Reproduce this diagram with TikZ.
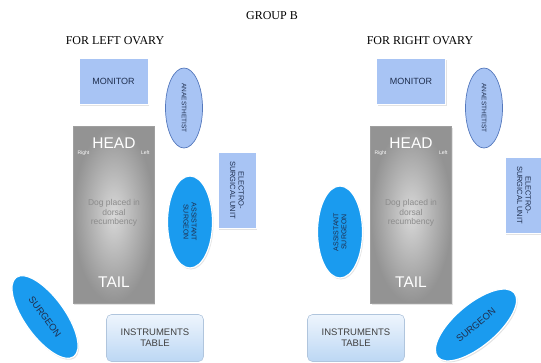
\documentclass[tikz,border=0pt]{standalone}
\usepackage{fontspec}
\setmainfont{Liberation Serif}
\setsansfont{Liberation Sans}
\usetikzlibrary{shapes.geometric, shadows}
\definecolor{paleblue}{HTML}{A8C4F4}
\definecolor{deepblue}{HTML}{1A9BEF}
\definecolor{rimblue}{HTML}{5478BC}
\definecolor{inkblue}{HTML}{1F2F4F}
\definecolor{tablelt}{HTML}{EEF5FD}
\definecolor{tabledk}{HTML}{BCD7F4}
\newcommand{\fsz}[1]{\fontsize{#1}{1.15\dimexpr#1pt\relax}\selectfont}

\begin{document}
\begin{tikzpicture}[x=1pt, y=-1pt,
    softshadow/.style={drop shadow={opacity=0.22, shadow xshift=1pt, shadow yshift=-1.5pt}},
    monitorbox/.style={rectangle, fill=paleblue, draw=white, line width=0.8pt, softshadow,
      minimum width=69pt, minimum height=46pt, font=\sffamily\fsz{9}, text=inkblue},
    anaes/.style={ellipse, fill=paleblue, draw=rimblue, line width=0.7pt, inner sep=0pt,
      minimum width=80pt, minimum height=37pt, font=\sffamily\fsz{6.5}, text=inkblue},
    electro/.style={rectangle, fill=paleblue, draw=white, line width=0.8pt, softshadow, inner sep=0pt,
      minimum width=76pt, minimum height=38pt, align=center, font=\sffamily\fsz{7.5}, text=inkblue},
    assist/.style={ellipse, fill=deepblue, draw=white, line width=1.2pt, softshadow, inner sep=0pt,
      minimum width=92pt, minimum height=45pt, align=center, font=\sffamily\fsz{7}, text=inkblue},
    surgeon/.style={ellipse, fill=deepblue, draw=white, line width=1.2pt, softshadow, inner sep=0pt,
      minimum width=98pt, minimum height=40pt, font=\sffamily\fsz{9.5}, text=inkblue},
    instr/.style={rectangle, rounded corners=5pt, top color=tablelt, bottom color=tabledk,
      draw=tabledk!80!gray, line width=0.6pt, minimum width=97pt, minimum height=47pt,
      align=center, font=\sffamily\fsz{9.5}, text=black!75},
    optable/.style={rectangle, shading=radial, inner color=gray!30, outer color=gray!85,
      draw=gray!75, line width=0.5pt, softshadow, minimum width=81pt, minimum height=177pt},
    tabletext/.style={font=\sffamily\fsz{15.5}, text=white},
    sidetext/.style={font=\sffamily\fsz{5}, text=white},
    dogtext/.style={align=center, font=\sffamily\fsz{8.5}, text=gray!90},
    headline/.style={font=\fsz{12}}]
  \useasboundingbox (0,0) rectangle (541,362);

  \node[headline] (title) at (272,16) {GROUP B};
  \node[headline] (lefthead) at (115,41) {FOR LEFT OVARY};
  \node[headline] (righthead) at (420,41) {FOR RIGHT OVARY};

  % left ovary
  \node[monitorbox] (lmonitor) at (113.5,81) {MONITOR};
  \node[anaes, rotate=-90] (lanaes) at (184,108) {ANAESTHETIST};
  \node[optable] (ltable) at (113.5,214.5) {};
  \node[tabletext] (lhead) at (114,143) {HEAD};
  \node[sidetext, anchor=west] (lright) at (74,153) {Right};
  \node[sidetext, anchor=east] (lleft) at (153,153) {Left};
  \node[dogtext] (ldog) at (114,213) {Dog placed in\\dorsal\\recumbency};
  \node[tabletext] (ltail) at (114,282) {TAIL};
  \node[electro, rotate=-90] (lelectro) at (237,190) {ELECTRO-\\SURGICAL UNIT};
  \node[assist, rotate=-90] (lassist) at (190,222) {ASSISTANT\\SURGEON};
  \node[surgeon, rotate=-54] (lsurgeon) at (45,317) {SURGEON};
  \node[instr] (linstr) at (155,338) {INSTRUMENTS\\TABLE};

  % right ovary
  \node[monitorbox] (rmonitor) at (411,81) {MONITOR};
  \node[anaes, rotate=-90] (ranaes) at (484,108) {ANAESTHETIST};
  \node[optable] (rtable) at (411,214.5) {};
  \node[tabletext] (rhead) at (411,143) {HEAD};
  \node[sidetext, anchor=west] (rright) at (371,153) {Right};
  \node[sidetext, anchor=east] (rleft) at (451,153) {Left};
  \node[dogtext] (rdog) at (411,213) {Dog placed in\\dorsal\\recumbency};
  \node[tabletext] (rtail) at (411,282) {TAIL};
  \node[electro, rotate=-90] (relectro) at (524,195) {ELECTRO-\\SURGICAL UNIT};
  \node[assist, rotate=90] (rassist) at (340,232) {ASSISTANT\\SURGEON};
  \node[surgeon, rotate=40, minimum width=100pt, minimum height=42pt] (rsurgeon) at (476,325) {SURGEON};
  \node[instr] (rinstr) at (356,338) {INSTRUMENTS\\TABLE};
\end{tikzpicture}
\end{document}
